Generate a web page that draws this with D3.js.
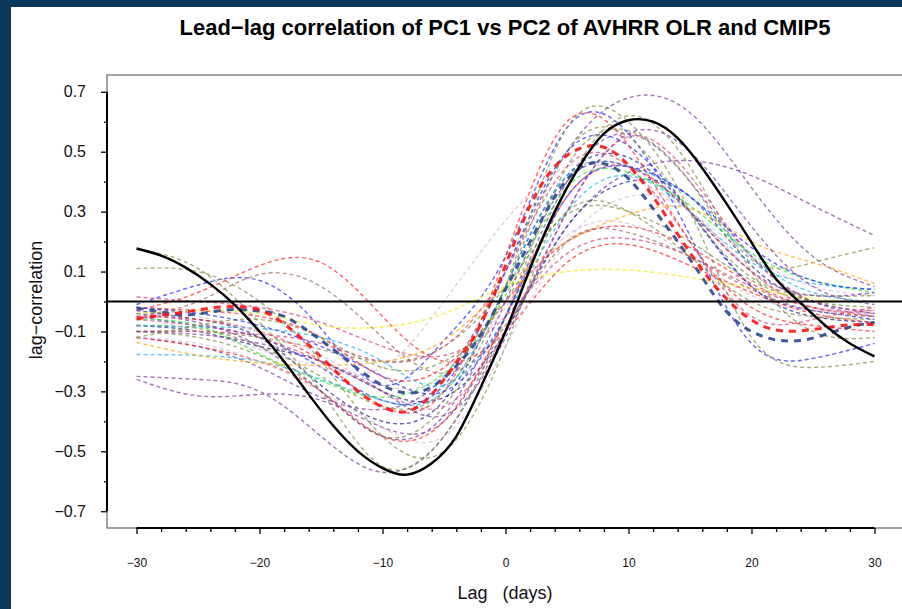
<!DOCTYPE html>
<html>
<head>
<meta charset="utf-8">
<script src="https://cdn.jsdelivr.net/npm/d3@7"></script>
<style>
	body { margin: 0; background: #0a375a; }
	svg { display: block; }
	text { font-family: "Liberation Sans", Arial, Helvetica, sans-serif; }
</style>
</head>
<body>
<svg width="902" height="609"></svg>
<script>
// lags used for the observed curve and the two ensemble means
const lagsFine = [-30,-28,-26,-24,-22,-20,-18,-16,-14,-12,-10,-8,-6,-4,-2,0,2,4,6,8,10,12,14,16,18,20,22,24,26,28,30];
const lagsModel = [-30,-25,-20,-15,-10,-5,0,5,10,15,20,25,30];

const obsCorr = [0.177,0.153,0.113,0.058,-0.012,-0.1,-0.2,-0.31,-0.415,-0.5,-0.556,-0.578,-0.54,-0.45,-0.285,-0.1,0.11,0.3,0.45,0.56,0.605,0.6,0.545,0.445,0.325,0.197,0.075,-0.005,-0.08,-0.14,-0.183];
const meanRed = [-0.058,-0.046,-0.035,-0.022,-0.017,-0.028,-0.075,-0.145,-0.225,-0.3,-0.352,-0.367,-0.31,-0.205,-0.075,0.12,0.32,0.45,0.51,0.515,0.455,0.35,0.225,0.105,0.008,-0.062,-0.095,-0.098,-0.088,-0.078,-0.077];
const meanNavy = [-0.022,-0.035,-0.045,-0.035,-0.027,-0.032,-0.05,-0.1,-0.16,-0.225,-0.28,-0.305,-0.285,-0.215,-0.11,0.04,0.2,0.35,0.445,0.46,0.41,0.31,0.2,0.08,-0.035,-0.1,-0.128,-0.13,-0.11,-0.085,-0.07];

const modelColors = [
	"#7b3a9e","#7b3a9e","#7b3a9e","#20208a","#20208a","#1f1fff","#1f1fff","#7f8f3f",
	"#7f8f3f","#7f8f3f","#7f8f3f","#7f8f3f","#ff2020","#ff2020","#ff2020","#ff2020",
	"#d4407a","#d4407a","#d4407a","#22ee22","#19b4e6","#19b4e6","#f0f000","#ffa500",
	"#d6bad6","#d6bad6","#d6bad6","#9b6a5a","#7b3a9e","#7b3a9e","#7f8f3f","#1f1fff"
];
const modelCorr = [
	[-0.12,-0.15,-0.22,-0.32,-0.36,-0.25,0.1,0.5,0.68,0.63,0.38,0.15,0.05],
	[-0.25,-0.26,-0.30,-0.45,-0.57,-0.45,-0.1,0.25,0.43,0.47,0.42,0.32,0.22],
	[-0.26,-0.315,-0.31,-0.33,-0.42,-0.4,-0.05,0.4,0.56,0.4,0.15,0.0,-0.05],
	[-0.03,-0.06,-0.12,-0.28,-0.4,-0.33,0.05,0.42,0.48,0.3,0.05,-0.05,-0.07],
	[-0.08,-0.1,-0.15,-0.2,-0.3,-0.32,-0.1,0.25,0.4,0.35,0.12,0.0,-0.04],
	[-0.01,0.055,0.07,-0.09,-0.28,-0.13,0.15,0.58,0.56,0.22,-0.14,-0.19,-0.14],
	[-0.05,-0.08,-0.12,-0.22,-0.33,-0.28,0.1,0.5,0.52,0.3,0.05,-0.03,-0.06],
	[0.175,0.11,-0.07,-0.3,-0.55,-0.45,-0.05,0.45,0.57,0.4,0.14,0.13,0.18],
	[0.11,0.1,0.0,-0.2,-0.45,-0.5,-0.15,0.38,0.62,0.45,0.1,-0.1,-0.12],
	[-0.1,-0.12,-0.18,-0.3,-0.45,-0.35,0.05,0.58,0.6,0.3,-0.12,-0.22,-0.2],
	[-0.1,-0.1,-0.12,-0.16,-0.2,-0.15,0.05,0.29,0.3,0.2,0.07,0.0,-0.02],
	[-0.08,-0.09,-0.15,-0.25,-0.35,-0.3,0.05,0.5,0.55,0.3,0.08,0.02,0.02],
	[-0.03,0.03,0.12,0.13,-0.05,-0.2,-0.1,0.13,0.19,0.12,0.03,-0.04,-0.07],
	[-0.05,-0.06,-0.1,-0.2,-0.35,-0.3,0.15,0.6,0.52,0.2,-0.02,-0.08,-0.1],
	[-0.12,-0.15,-0.2,-0.3,-0.45,-0.4,-0.05,0.35,0.45,0.3,0.1,-0.02,-0.03],
	[-0.02,-0.03,-0.05,-0.12,-0.25,-0.22,0.0,0.2,0.25,0.18,0.06,-0.02,-0.05],
	[0.015,0.0,-0.02,-0.07,-0.15,-0.18,-0.05,0.16,0.21,0.15,0.05,-0.02,-0.04],
	[-0.06,-0.08,-0.12,-0.2,-0.3,-0.35,-0.1,0.3,0.55,0.42,0.15,0.0,-0.03],
	[-0.1,-0.1,-0.11,-0.14,-0.2,-0.15,0.1,0.45,0.45,0.2,-0.05,-0.06,-0.02],
	[-0.06,-0.08,-0.175,-0.265,-0.32,-0.24,0.02,0.38,0.43,0.32,0.16,0.07,0.03],
	[-0.177,-0.18,-0.2,-0.26,-0.33,-0.3,0.05,0.42,0.45,0.35,0.15,0.03,0.0],
	[-0.08,-0.085,-0.09,-0.12,-0.2,-0.28,-0.05,0.3,0.42,0.3,0.13,0.06,0.04],
	[-0.04,-0.03,-0.04,-0.08,-0.085,-0.04,0.05,0.1,0.105,0.08,0.045,0.01,0.0],
	[-0.137,-0.18,-0.205,-0.213,-0.2,-0.13,0.05,0.2,0.29,0.31,0.2,0.13,0.06],
	[-0.05,-0.1,-0.16,-0.22,-0.22,0.0,0.27,0.45,0.42,0.3,0.15,0.05,0.02],
	[-0.12,-0.14,-0.2,-0.3,-0.42,-0.45,-0.15,0.2,0.35,0.3,0.1,-0.02,-0.04],
	[-0.02,-0.05,-0.1,-0.18,-0.28,-0.25,-0.02,0.22,0.26,0.15,0.02,-0.03,-0.03],
	[-0.05,0.0,0.09,0.05,-0.12,-0.24,-0.08,0.2,0.23,0.15,0.04,-0.03,-0.05],
	[-0.1,-0.11,-0.14,-0.2,-0.3,-0.38,-0.12,0.3,0.56,0.5,0.25,0.05,-0.01],
	[-0.04,-0.07,-0.15,-0.3,-0.45,-0.38,0.0,0.4,0.45,0.3,0.1,0.02,0.03],
	[-0.12,-0.08,-0.06,-0.12,-0.22,-0.2,0.0,0.3,0.3,0.15,0.0,-0.05,-0.06],
	[-0.02,-0.04,-0.08,-0.15,-0.25,-0.3,-0.05,0.35,0.45,0.35,0.18,0.07,0.04]
];

const xMajor = [-30,-20,-10,0,10,20,30];
const xMinor = [-28,-26,-24,-22,-18,-16,-14,-12,-8,-6,-4,-2,2,4,6,8,12,14,16,18,22,24,26,28];
const yMajor = [-0.7,-0.5,-0.3,-0.1,0.1,0.3,0.5,0.7];
const yMinor = [-0.6,-0.4,-0.2,0,0.2,0.4,0.6];

const svg = d3.select("svg");
const width = +svg.attr("width");
const height = +svg.attr("height");

// slide background + white panel
svg.append("rect").attr("width", width).attr("height", height).attr("fill", "#0a375a");
svg.append("rect").attr("x", 11).attr("y", 7)
	.attr("width", width - 11).attr("height", height - 7).attr("fill", "#ffffff");

const box = { left: 107, top: 75, right: 904, bottom: 528 };

const xScale = d3.scaleLinear().domain([-32.4, 32.4]).range([box.left, box.right]);
const yScale = d3.scaleLinear().domain([-0.756, 0.756]).range([box.bottom, box.top]);

svg.append("clipPath").attr("id", "plotclip")
	.append("rect")
	.attr("x", box.left).attr("y", box.top)
	.attr("width", box.right - box.left).attr("height", box.bottom - box.top);

const plot = svg.append("g").attr("clip-path", "url(#plotclip)");

const line = d3.line()
	.x(d => xScale(d[0]))
	.y(d => yScale(d[1]))
	.curve(d3.curveNatural);

// model curves
plot.selectAll("path.model").data(modelCorr)
	.enter().append("path")
		.attr("class", "model")
		.attr("d", vals => line(d3.zip(lagsModel, vals)))
		.attr("fill", "none")
		.attr("stroke", (vals, i) => modelColors[i])
		.attr("stroke-opacity", 0.7)
		.attr("stroke-width", 1.4)
		.attr("stroke-dasharray", "4,3");

// ensemble means
plot.append("path")
	.attr("d", line(d3.zip(lagsFine, meanNavy)))
	.attr("fill", "none").attr("stroke", "#2a4790").attr("stroke-opacity", 0.9)
	.attr("stroke-width", 3).attr("stroke-dasharray", "7,6");
plot.append("path")
	.attr("d", line(d3.zip(lagsFine, meanRed)))
	.attr("fill", "none").attr("stroke", "#ff1010").attr("stroke-opacity", 0.9)
	.attr("stroke-width", 3).attr("stroke-dasharray", "7,6");

// zero line
plot.append("line")
	.attr("x1", box.left).attr("x2", box.right)
	.attr("y1", yScale(0)).attr("y2", yScale(0))
	.attr("stroke", "#000").attr("stroke-width", 2);

// observed
plot.append("path")
	.attr("d", line(d3.zip(lagsFine, obsCorr)))
	.attr("fill", "none").attr("stroke", "#000").attr("stroke-width", 2.4);

// box
svg.append("rect")
	.attr("x", box.left).attr("y", box.top)
	.attr("width", box.right - box.left).attr("height", box.bottom - box.top)
	.attr("fill", "none").attr("stroke", "#666").attr("stroke-width", 1.2);

// y axis
const yAxis = d3.axisLeft(yScale).tickValues(yMajor).tickSize(6).tickPadding(15)
	.tickFormat(d3.format(".1f"));
const yAxisMinor = d3.axisLeft(yScale).tickValues(yMinor).tickSize(3).tickFormat("");

const gy = svg.append("g").attr("transform", `translate(${box.left},0)`).call(yAxis);
svg.append("g").attr("transform", `translate(${box.left},0)`).call(yAxisMinor)
	.select(".domain").remove();
gy.select(".domain").remove();
gy.selectAll("text").attr("font-size", 16).attr("fill", "#111").attr("font-family", null);
svg.append("line")
	.attr("x1", box.left).attr("x2", box.left)
	.attr("y1", yScale(0.7)).attr("y2", yScale(-0.7))
	.attr("stroke", "#000").attr("stroke-width", 2);

// x axis
const xAxis = d3.axisBottom(xScale).tickValues(xMajor).tickSize(6).tickPadding(24)
	.tickFormat(d3.format("d"));
const xAxisMinor = d3.axisBottom(xScale).tickValues(xMinor).tickSize(4).tickFormat("");

const gx = svg.append("g").attr("transform", `translate(0,${box.bottom})`).call(xAxis);
svg.append("g").attr("transform", `translate(0,${box.bottom})`).call(xAxisMinor)
	.select(".domain").remove();
gx.select(".domain").remove();
gx.selectAll("text").attr("font-size", 12).attr("fill", "#111").attr("font-family", null);
svg.append("line")
	.attr("x1", xScale(-30)).attr("x2", xScale(30))
	.attr("y1", box.bottom).attr("y2", box.bottom)
	.attr("stroke", "#000").attr("stroke-width", 2);

svg.selectAll(".tick line").attr("stroke", "#000").attr("stroke-width", 1.3);

// titles
svg.append("text")
	.attr("x", 505).attr("y", 35)
	.attr("text-anchor", "middle")
	.attr("font-size", 22).attr("font-weight", "bold")
	.text("Lead\u2212lag correlation of PC1 vs PC2 of AVHRR OLR and CMIP5");

svg.append("text")
	.attr("x", 505).attr("y", 599)
	.attr("text-anchor", "middle")
	.attr("font-size", 18).attr("fill", "#111")
	.style("white-space", "pre")
	.text("Lag   (days)");

svg.append("text")
	.attr("transform", "translate(42,300) rotate(-90)")
	.attr("text-anchor", "middle")
	.attr("font-size", 18).attr("fill", "#111")
	.text("lag\u2212correlation");
</script>
</body>
</html>
